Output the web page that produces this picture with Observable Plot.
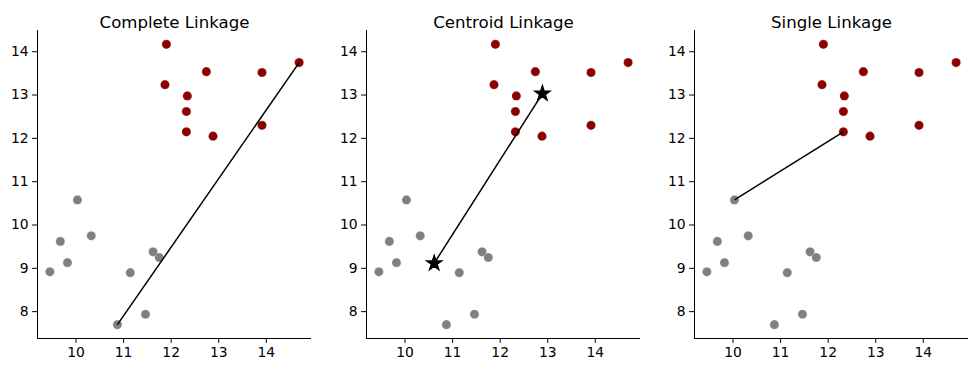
<!DOCTYPE html>
<html>
<head>
<meta charset="utf-8">
<script src="https://cdn.jsdelivr.net/npm/d3@7"></script>
<script src="https://cdn.jsdelivr.net/npm/@observablehq/plot@0.6"></script>
<style>
  html, body { margin: 0; padding: 0; background: #fff; }
  #wrap { position: relative; width: 977px; height: 372px; }
  .panel { position: absolute; top: 0; }
</style>
</head>
<body>
<div id="wrap"></div>
<script>
// Cluster A (gray)
const grayX = [9.45, 9.67, 9.82, 10.03, 10.32, 11.14, 11.46, 10.87, 11.62, 11.75];
const grayY = [8.92, 9.62, 9.13, 10.58, 9.75, 8.90, 7.94, 7.70, 9.38, 9.25];
// Cluster B (dark red)
const redX = [11.90, 11.87, 12.74, 13.91, 14.69, 12.34, 12.32, 12.32, 12.88, 13.91];
const redY = [14.17, 13.24, 13.54, 13.52, 13.75, 12.98, 12.62, 12.15, 12.05, 12.30];

const titles = ["Complete Linkage", "Centroid Linkage", "Single Linkage"];
const xTicks = [10, 11, 12, 13, 14];
const yTicks = [8, 9, 10, 11, 12, 13, 14];

const gray = grayX.map((x, i) => ({x, y: grayY[i]}));
const red = redX.map((x, i) => ({x, y: redY[i]}));

// linkage pairs
let pairs = [];
for (const a of gray) for (const b of red) pairs.push({a, b, d: Math.hypot(a.x - b.x, a.y - b.y)});
const far = d3.greatest(pairs, p => p.d);
const near = d3.least(pairs, p => p.d);
const cg = {x: d3.mean(gray, d => d.x), y: d3.mean(gray, d => d.y)};
const cr = {x: d3.mean(red, d => d.x), y: d3.mean(red, d => d.y)};

const links = [
  [{x1: far.a.x, y1: far.a.y, x2: far.b.x, y2: far.b.y}],
  [{x1: cg.x, y1: cg.y, x2: cr.x, y2: cr.y}],
  [{x1: near.a.x, y1: near.a.y, x2: near.b.x, y2: near.b.y}]
];

const xDom = [9.19, 14.95];
const yDom = [7.38, 14.49];
const offsets = [0, 329, 657];

titles.forEach((t, k) => {
  const marks = [
    Plot.ruleX([xDom[0]], {stroke: "black", strokeWidth: 1}),
    Plot.ruleY([yDom[0]], {stroke: "black", strokeWidth: 1}),
    Plot.dot(gray, {x: "x", y: "y", r: 4.6, fill: "#808080", stroke: "white", strokeWidth: 0.3}),
    Plot.dot(red, {x: "x", y: "y", r: 4.6, fill: "#8b0000", stroke: "white", strokeWidth: 0.3}),
    Plot.link(links[k], {x1: "x1", y1: "y1", x2: "x2", y2: "y2", stroke: "black", strokeWidth: 1.5}),
    Plot.text([t], {frameAnchor: "top", dy: -14, fontSize: 16.6, fill: "black"})
  ];
  if (k === 1) {
    marks.push(Plot.dot([cg, cr], {x: "x", y: "y", symbol: "star", r: 4.6, fill: "black", stroke: "black"}));
  }
  const chart = Plot.plot({
    width: 322,
    height: 372,
    marginLeft: 37,
    marginRight: 11,
    marginTop: 30,
    marginBottom: 34,
    style: {fontFamily: "DejaVu Sans", fontSize: "13.9px", color: "black", background: "transparent", overflow: "visible"},
    x: {domain: xDom, ticks: xTicks, tickSize: 4.9, tickPadding: 4, label: null, tickFormat: d => String(d)},
    y: {domain: yDom, ticks: yTicks, tickSize: 4.9, tickPadding: 4, label: null, tickFormat: d => String(d)},
    marks
  });
  chart.classList.add("panel");
  chart.style.left = offsets[k] + "px";
  document.getElementById("wrap").appendChild(chart);
});
</script>
</body>
</html>
